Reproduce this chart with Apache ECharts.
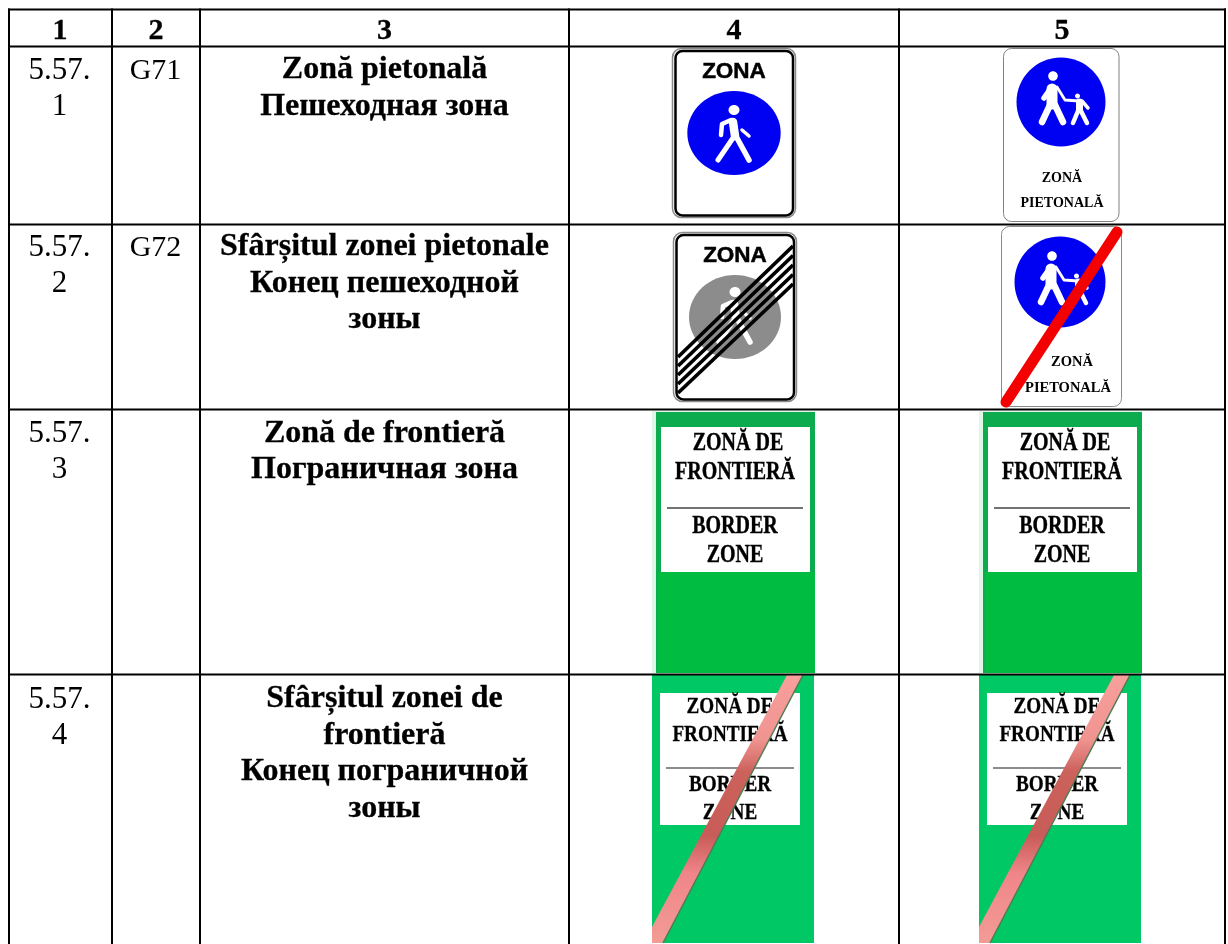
<!DOCTYPE html>
<html>
<head>
<meta charset="utf-8">
<title>5.57</title>
<style>
  html, body { margin: 0; padding: 0; background: #fff; }
  #main { width: 1228px; height: 944px; }
</style>
<script src="https://cdn.jsdelivr.net/npm/echarts@6/dist/echarts.min.js"></script>
</head>
<body>
<div id="main"></div>
<script>
// table text
const headers = ['1', '2', '3', '4', '5'];
const rowNumbers = [['5.57.', '1'], ['5.57.', '2'], ['5.57.', '3'], ['5.57.', '4']];
const rowCodes = ['G71', 'G72', '', ''];
const rowTitles = [
  ['Zonă pietonală', 'Пешеходная зона'],
  ['Sfârșitul zonei pietonale', 'Конец пешеходной', 'зоны'],
  ['Zonă de frontieră', 'Пограничная зона'],
  ['Sfârșitul zonei de', 'frontieră', 'Конец пограничной', 'зоны']
];
// text on the signs
const walkSignLabel = 'ZONA';
const paxSignLabels = ['ZONĂ', 'PIETONALĂ'];
const borderSignLabels = ['ZONĂ DE', 'FRONTIERĂ', 'BORDER', 'ZONE'];

const SERIF = '"Liberation Serif", "Times New Roman", serif';
const SANS = '"Liberation Sans", Arial, sans-serif';
const BLUE = '#0000f2';

const els = [];

function text(str, x, baseline, size, opts) {
  opts = opts || {};
  els.push({
    type: 'text',
    silent: true,
    x: x,
    y: baseline - size * 0.31,
    scaleX: opts.scaleX || 1,
    style: {
      text: str,
      x: 0,
      y: 0,
      fill: opts.color || '#000',
      stroke: opts.heavy ? '#000' : null,
      lineWidth: opts.heavy || 0,
      font: (opts.bold ? 'bold ' : '') + size + 'px ' + (opts.family || SERIF),
      textAlign: 'center',
      verticalAlign: 'middle'
    }
  });
}

function rect(x, y, w, h, fill, stroke, lineWidth, r) {
  els.push({
    type: 'rect',
    silent: true,
    shape: { x: x, y: y, width: w, height: h, r: r || 0 },
    style: { fill: fill, stroke: stroke || null, lineWidth: lineWidth || 0 }
  });
}

function ellipse(cx, cy, rx, ry, fill) {
  els.push({
    type: 'ellipse',
    silent: true,
    shape: { cx: cx, cy: cy, rx: rx, ry: ry },
    style: { fill: fill }
  });
}

function stroke(points, color, width, cap) {
  els.push({
    type: 'polyline',
    silent: true,
    shape: { points: points },
    style: { fill: null, stroke: color, lineWidth: width, lineCap: cap || 'round', lineJoin: 'round' }
  });
}

// shift a list of points to a sign's circle
function at(cx, cy, pts) {
  return pts.map(function (p) { return [cx + p[0], cy + p[1]]; });
}

function walker(cx, cy) {
  ellipse(cx, cy - 23, 5.5, 5, '#fff');
  stroke(at(cx, cy, [[-1, -11], [1, 3]]), '#fff', 8.5);
  stroke(at(cx, cy, [[-3, -13], [-12, -9], [-13, 2]]), '#fff', 4.5);
  stroke(at(cx, cy, [[8, -3], [15, 3]]), '#fff', 3.5);
  stroke(at(cx, cy, [[-1, 5], [-16, 27]]), '#fff', 5);
  stroke(at(cx, cy, [[3, 5], [15, 27]]), '#fff', 5.5);
}

function adultAndChild(cx, cy) {
  ellipse(cx - 8, cy - 26, 4.8, 4.8, '#fff');
  stroke(at(cx, cy, [[-9, -13], [-9, 2]]), '#fff', 11);
  stroke(at(cx, cy, [[-10, -14], [-17, -4]]), '#fff', 5.5);
  stroke(at(cx, cy, [[-4, -15], [4, -2], [18, -1]]), '#fff', 2.8);
  stroke(at(cx, cy, [[-11, 3], [-19, 20]]), '#fff', 6.5);
  stroke(at(cx, cy, [[-6, 3], [2, 20]]), '#fff', 6.5);
  ellipse(cx + 16.5, cy - 6, 2.5, 2.5, '#fff');
  stroke(at(cx, cy, [[18.5, 0], [18.5, 8]]), '#fff', 7);
  stroke(at(cx, cy, [[17, 9], [12, 21]]), '#fff', 4.5);
  stroke(at(cx, cy, [[20, 9], [26, 21]]), '#fff', 4.5);
  stroke(at(cx, cy, [[21, -1], [27, 6]]), '#fff', 3.5);
}

function greenBorderSign(dx) {
  rect(652 + dx, 411, 163, 262, '#dff7e8');
  rect(656 + dx, 412, 159, 261, '#0cab4e');
  rect(658 + dx, 572, 157, 101, '#00bc40');
  rect(661 + dx, 427, 149, 145, '#fff');
  text(borderSignLabels[0], 738 + dx, 451, 25, { bold: true, scaleX: 0.8, heavy: 0.4 });
  text(borderSignLabels[1], 735 + dx, 480, 25, { bold: true, scaleX: 0.8, heavy: 0.4 });
  stroke([[667 + dx, 508], [803 + dx, 508]], '#444', 1.5, 'butt');
  text(borderSignLabels[2], 735 + dx, 534, 25, { bold: true, scaleX: 0.8, heavy: 0.4 });
  text(borderSignLabels[3], 735 + dx, 563, 25, { bold: true, scaleX: 0.8, heavy: 0.4 });
}

function crossedBorderSign(dx) {
  rect(652 + dx, 675, 162, 268, '#00c864');
  rect(660 + dx, 693, 140, 132, '#fff');
  text(borderSignLabels[0], 730 + dx, 714, 24, { bold: true, scaleX: 0.8, heavy: 0.3 });
  text(borderSignLabels[1], 730 + dx, 742, 24, { bold: true, scaleX: 0.8, heavy: 0.3 });
  stroke([[666 + dx, 768], [794 + dx, 768]], '#666', 1.5, 'butt');
  text(borderSignLabels[2], 730 + dx, 792, 24, { bold: true, scaleX: 0.8, heavy: 0.3 });
  text(borderSignLabels[3], 730 + dx, 820, 24, { bold: true, scaleX: 0.8, heavy: 0.3 });
  // the bar across the sign, darker in the middle
  els.push({
    type: 'polygon',
    silent: true,
    shape: { points: [[787 + dx, 675], [803 + dx, 675], [663 + dx, 943], [652 + dx, 943], [652 + dx, 927]] },
    style: {
      fill: {
        type: 'linear', x: 0, y: 0, x2: 0, y2: 1,
        colorStops: [
          { offset: 0, color: '#f8a09c' },
          { offset: 0.24, color: '#f09490' },
          { offset: 0.36, color: '#cc625c' },
          { offset: 0.6, color: '#c85c58' },
          { offset: 0.74, color: '#f0858a' },
          { offset: 1, color: '#f29c94' }
        ]
      }
    }
  });
  stroke([[803 + dx, 675], [663 + dx, 943]], '#4f7a55', 1.5, 'butt');
}

// sign 4 / row 1
rect(672.5, 48.5, 123, 169, '#fff', '#8a8a8a', 1.5, 9);
rect(675.5, 51, 117.5, 164.5, '#fff', '#000', 2.5, 7);
text(walkSignLabel, 734, 79, 22.5, { bold: true, family: SANS, heavy: 0.5 });
ellipse(734, 133, 46.7, 42, BLUE);
walker(734, 133);

// sign 5 / row 1
rect(1003.5, 48.5, 115.5, 173, '#fff', '#808080', 1, 8);
ellipse(1061, 102, 44.5, 44.5, BLUE);
adultAndChild(1061, 102);
text(paxSignLabels[0], 1062, 183, 14, { bold: true });
text(paxSignLabels[1], 1062, 208, 14, { bold: true });

// sign 4 / row 2
rect(673.5, 232.5, 123, 169, '#fff', '#8a8a8a', 1.5, 9);
rect(676.5, 235, 117.5, 164.5, '#fff', '#000', 2.5, 7);
text(walkSignLabel, 735, 263, 22.5, { bold: true, family: SANS, heavy: 0.5 });
ellipse(735, 317, 46, 42, '#8c8c8c');
walker(735, 315);
[0, 1, 2, 3, 4].forEach(function (i) {
  stroke([[678, 357 + 9 * i], [793, 246 + 9.5 * i]], '#000', 3.7, 'butt');
});

// sign 5 / row 2
rect(1001.5, 226.5, 120, 180, '#fff', '#8a8a8a', 1, 8);
ellipse(1060, 282, 45.5, 45.5, BLUE);
adultAndChild(1060, 282);
text(paxSignLabels[0], 1072, 367, 14.5, { bold: true });
text(paxSignLabels[1], 1068, 393, 14.5, { bold: true });
stroke([[1006, 402], [1117, 232]], '#f50000', 11);

// rows 3 and 4
greenBorderSign(0);
greenBorderSign(327);
crossedBorderSign(0);
crossedBorderSign(327);

// grid, on top of the signs
const colLines = [9, 112, 200, 569, 899, 1225];
const rowLines = [9.5, 46.5, 224.5, 409.5, 674.5];
const colCenters = [60, 156, 384.5, 734, 1062];
rowLines.forEach(function (y) {
  stroke([[8, y], [1226, y]], '#000', 2, 'butt');
});
colLines.forEach(function (x) {
  stroke([[x, 8.5], [x, 944]], '#000', 2, 'butt');
});

// table text
headers.forEach(function (h, i) {
  text(h, colCenters[i], 41, 30, { bold: true, heavy: 0.3 });
});
const firstBaselines = [80, 257, 443.5, 709];
rowNumbers.forEach(function (lines, r) {
  lines.forEach(function (s, i) {
    text(s, 59.5, firstBaselines[r] + i * 36, 31);
  });
  if (rowCodes[r]) {
    text(rowCodes[r], 155.5, firstBaselines[r], 30);
  }
  rowTitles[r].forEach(function (s, i) {
    text(s, 384.5, firstBaselines[r] + i * 36.5, 32, { bold: true, heavy: 0.3 });
  });
});

const chart = echarts.init(document.getElementById('main'), null, { renderer: 'canvas' });
chart.setOption({
  animation: false,
  graphic: { elements: els }
});
</script>
</body>
</html>
